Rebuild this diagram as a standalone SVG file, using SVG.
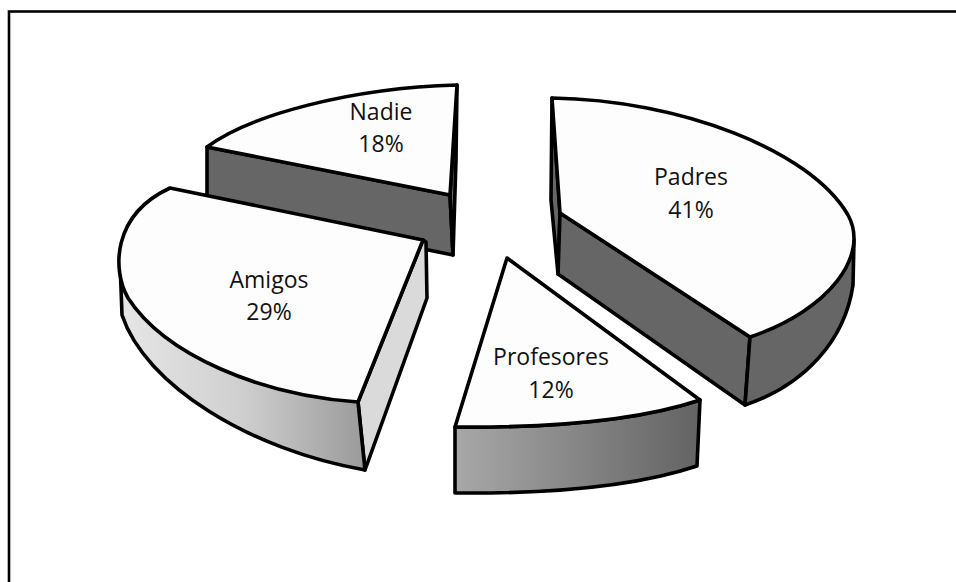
<svg xmlns="http://www.w3.org/2000/svg" width="956" height="582" viewBox="0 0 956 582">
<defs>
<linearGradient id="gProf" x1="0" y1="0" x2="1" y2="0"><stop offset="0" stop-color="#a8a8a8"/><stop offset="1" stop-color="#636363"/></linearGradient>
<linearGradient id="gAmig" gradientUnits="userSpaceOnUse" x1="120" y1="0" x2="365" y2="0"><stop offset="0" stop-color="#e6e6e6"/><stop offset="0.5" stop-color="#cfcfcf"/><stop offset="1" stop-color="#9a9a9a"/></linearGradient>
<style>
.e{stroke:#000;stroke-width:3.6;stroke-linejoin:round;stroke-linecap:round}
.top{fill:#fdfdfd}
.dk{fill:#666666}
.lt{fill:#dadada}
.lbl{font-family:"Open Sans","Liberation Sans",sans-serif;font-size:23px;fill:#111;text-anchor:middle}
</style>
</defs>
<rect width="956" height="582" fill="#ffffff"/>
<rect x="9" y="11.5" width="980" height="600" fill="none" stroke="#000" stroke-width="2.6"/>

<g id="nadie">
<path class="e dk" d="M207,147 L450,195 L453,255 L207,205 Z"/>
<path class="e dk" d="M450,195 L457,85 L456,160 L453,255 Z"/>
<path class="e top" d="M207,147 C250,115 350,88 457,85 L450,195 Z"/>
<text class="lbl" x="381" y="120">Nadie</text>
<text class="lbl" x="381" y="152">18%</text>
</g>

<g id="padres">
<path class="e dk" d="M552,98 L560,213 L558,274 L551,200 Z"/>
<path class="e dk" d="M560,213 L750,337 L745,405 L558,274 Z"/>
<path class="e dk" d="M750,337 L700,250 L854,240 L853,285 C845,340 805,385 745,405 Z"/>
<path class="e top" d="M552,98 C680,100 810,150 848,215 C870,255 830,310 750,337 L560,213 Z"/>
<text class="lbl" x="691" y="185">Padres</text>
<text class="lbl" x="691" y="218">41%</text>
</g>

<g id="amigos">
<path class="e lt" d="M423,240 L358,402 L365,470 L427,298 L426,242 Z"/>
<path class="e" fill="url(#gAmig)" d="M358,402 L300,300 L120,262 L122,315 C145,385 250,450 365,470 Z"/>
<path class="e top" d="M170,188 L423,240 L358,402 C260,395 165,355 128,298 C112,270 112,215 170,188 Z"/>
<text class="lbl" x="269" y="288">Amigos</text>
<text class="lbl" x="269" y="320">29%</text>
</g>

<g id="profesores">
<path class="e" fill="url(#gProf)" d="M455,427 C560,428 640,420 700,400 L697,466 C640,485 560,494 455,493 Z"/>
<path class="e top" d="M507,258 L700,400 C640,420 560,428 455,427 Z"/>
<text class="lbl" x="551" y="365">Profesores</text>
<text class="lbl" x="551" y="398">12%</text>
</g>
</svg>
